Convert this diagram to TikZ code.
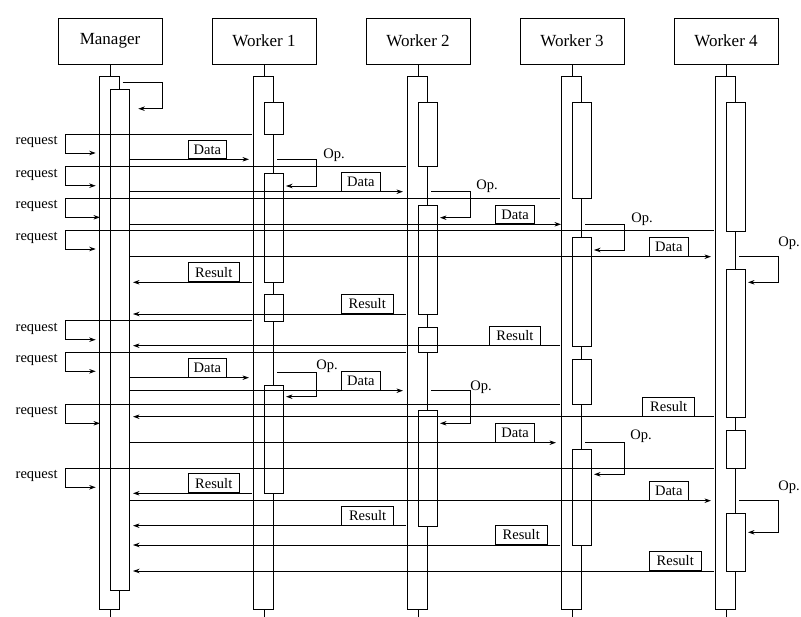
\documentclass[tikz,border=0pt]{standalone}
\usepackage{fontspec}
\setmainfont{Liberation Serif}
\usetikzlibrary{arrows.meta}
% inner activation box: name, lifeline x, top, bottom
\newcommand\ibx[4]{%
  \pgfmathsetmacro\ibxh{#4-#3}%
  \node[ibar, minimum height=\ibxh pt] (#1) at (#2+9.7,#3) {};}
% request: name, source lifeline x, top y, tip x
\newcommand\reqm[4]{%
  \coordinate (#1s) at (#2-12,#3);
  \coordinate (#1a) at (65.7,#3);
  \coordinate (#1b) at (65.7,#3+19);
  \coordinate (#1e) at (#4,#3+19);
  \draw[msg] (#1s) -- (#1a) -- (#1b) -- (#1e);
  \node[lbl, anchor=east] (#1l) at (58,#3+8) {request};}
% data: name, y, tip x, box left, box right
\newcommand\datam[5]{%
  \coordinate (#1s) at (129.4,#2);
  \coordinate (#1e) at (#3,#2);
  \draw[msg] (#1s) -- (#1e);
  \pgfmathsetmacro\bxw{#5-#4}%
  \node[mbox, minimum width=\bxw pt, minimum height=18.6pt, anchor=south west] (#1b) at (#4,#2) {Data};}
% result: name, source lifeline x, y, box left, box right
\newcommand\resm[5]{%
  \coordinate (#1s) at (#2-12,#3);
  \coordinate (#1e) at (133,#3);
  \draw[msg] (#1s) -- (#1e);
  \pgfmathsetmacro\bxw{#5-#4}%
  \node[mbox, minimum width=\bxw pt, minimum height=19.3pt, anchor=south west] (#1b) at (#4,#3) {Result};}
% op self call: name, lifeline x, top, bottom, label dx, label dy
\newcommand\opm[6]{%
  \coordinate (#1s) at (#2+13,#3);
  \coordinate (#1a) at (#2+52,#3);
  \coordinate (#1b) at (#2+52,#4);
  \coordinate (#1e) at (#2+22,#4);
  \draw[msg] (#1s) -- (#1a) -- (#1b) -- (#1e);
  \node[lbl, anchor=west] (#1l) at (#2+52+#5,#3-#6) {Op.};}
\begin{document}
\begin{tikzpicture}[x=1pt,y=-1pt,line width=0.8pt,
  head/.style={draw, minimum width=104pt, minimum height=46pt, inner sep=0pt,
    font=\fontsize{17}{19}\selectfont},
  obar/.style={draw, fill=white, minimum width=19.4pt, inner sep=0pt, anchor=north},
  ibar/.style={draw, fill=white, minimum width=19.4pt, inner sep=0pt, anchor=north},
  msg/.style={-{Stealth[length=6.5pt,width=4.5pt]}},
  lbl/.style={inner sep=0pt, font=\fontsize{14.5}{16}\selectfont},
  mbox/.style={draw, inner sep=0pt, font=\fontsize{14.5}{16}\selectfont}]
\useasboundingbox[fill=white] (0,0) rectangle (801,617);

% headers
\node[head] (hM) at (110,41) {Manager};
\node[head] (h1) at (264,41) {Worker 1};
\node[head] (h2) at (418,41) {Worker 2};
\node[head] (h3) at (572,41) {Worker 3};
\node[head] (h4) at (726,41) {Worker 4};

% outer bars
\foreach \n/\c in {M/110,1/264,2/418,3/572,4/726}{
  \node[obar, minimum height=533pt] (o\n) at (\c-0.5,76) {};
  \coordinate (e\n) at (\c,617);
  \draw (h\n.south) -- (h\n.south |- o\n.north);
  \draw (h\n.south |- o\n.south) -- (e\n);
}

% manager inner bar
\ibx{mI}{110}{89.3}{590}
% worker inner boxes
\ibx{a1}{264}{102}{134}
\ibx{a2}{264}{172.7}{282.3}
\ibx{a3}{264}{294.3}{320.7}
\ibx{a4}{264}{384.7}{493.3}
\ibx{b1}{418}{102}{166}
\ibx{b2}{418}{205}{314}
\ibx{b3}{418}{326.7}{352.3}
\ibx{b4}{418}{410}{525.7}
\ibx{c1}{572}{102}{198.3}
\ibx{c2}{572}{236.7}{346}
\ibx{c3}{572}{358.7}{404}
\ibx{c4}{572}{449}{545}
\ibx{d1}{726}{102}{230.7}
\ibx{d2}{726}{269.3}{416.7}
\ibx{d3}{726}{430}{468.3}
\ibx{d4}{726}{512.7}{571}

% manager self call
\coordinate (ms) at (122.7,82.7);
\coordinate (ma) at (162,82.7);
\coordinate (mb) at (162,108.7);
\coordinate (me) at (138.3,108.7);
\draw[msg] (ms) -- (ma) -- (mb) -- (me);

% requests
\reqm{R1}{264}{134}{95.7}
\reqm{R2}{418}{166.7}{95.7}
\reqm{R3}{572}{198.3}{100}
\reqm{R4}{726}{230}{95.7}
\reqm{R5}{264}{320.7}{95.7}
\reqm{R6}{418}{352.3}{95.7}
\reqm{R7}{572}{404.3}{100}
\reqm{R8}{726}{468.3}{95.7}

% data
\datam{D1}{159.3}{249}{187.7}{226.3}
\datam{D2}{191.7}{403}{341}{380}
\datam{D3}{224.3}{561}{495}{534.3}
\datam{D4}{256.7}{711}{649}{687.7}
\datam{D5}{377.7}{249}{187.7}{226.3}
\datam{D6}{390.7}{403}{341}{380}
\datam{D7}{442.7}{556}{495}{534.3}
\datam{D8}{500.7}{711}{649}{687.7}

% ops
\opm{O1}{264}{159.3}{186}{7}{4.3}
\opm{O2}{418}{191.7}{217.7}{6}{5}
\opm{O3}{572}{224}{250}{7}{5}
\opm{O4}{726}{256.7}{282.3}{0}{13.4}
\opm{O5}{264}{372}{396.7}{0}{5.3}
\opm{O6}{418}{390.7}{423.3}{0}{3.7}
\opm{O7}{572}{442.3}{474.3}{6}{5.6}
\opm{O8}{726}{500}{532.3}{0}{12.7}

% results
\resm{S1}{264}{282.3}{187.7}{239}
\resm{S2}{418}{314}{341}{392.7}
\resm{S3}{572}{345.7}{489}{540}
\resm{S4}{726}{416.7}{642.3}{694.3}
\resm{S5}{264}{493.3}{187.7}{239}
\resm{S6}{418}{525.7}{341}{393.3}
\resm{S7}{572}{545}{495}{546.7}
\resm{S8}{726}{571}{649}{700.7}
\end{tikzpicture}
\end{document}
